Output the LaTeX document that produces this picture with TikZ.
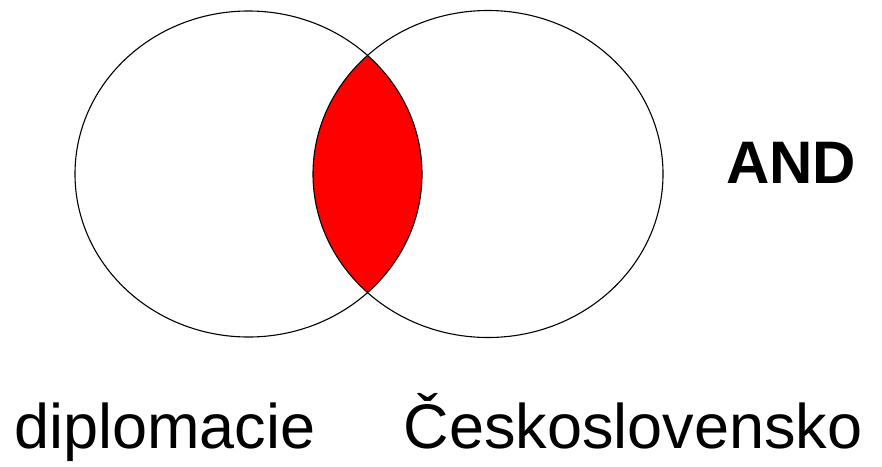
\documentclass[tikz,border=0pt]{standalone}
\usepackage{fontspec}
\setmainfont{Liberation Sans}
\begin{document}
\begin{tikzpicture}[x=1pt,y=-1pt,
  setline/.style={draw=black,line width=1.1pt},
  lbl/.style={font=\fontsize{63}{70}\selectfont,anchor=base,inner sep=0pt},
  oplbl/.style={font=\fontsize{60}{66}\selectfont\bfseries,anchor=base,inner sep=0pt}]
\useasboundingbox (0,0) rectangle (882,466);
\coordinate (cL) at (248.5,174);
\coordinate (cR) at (488,174);
\begin{scope}
  \clip (cL) ellipse [x radius=173.5, y radius=163];
  \fill[red] (cR) ellipse [x radius=175, y radius=163.5];
\end{scope}
\draw[setline] (cL) ellipse [x radius=173.5, y radius=163];
\draw[setline] (cR) ellipse [x radius=175, y radius=163.5];
\node[oplbl] (and) at (791,183) {AND};
\node[lbl] (a) at (165,448) {diplomacie};
\node[lbl] (b) at (633,448) {Československo};
\end{tikzpicture}
\end{document}
